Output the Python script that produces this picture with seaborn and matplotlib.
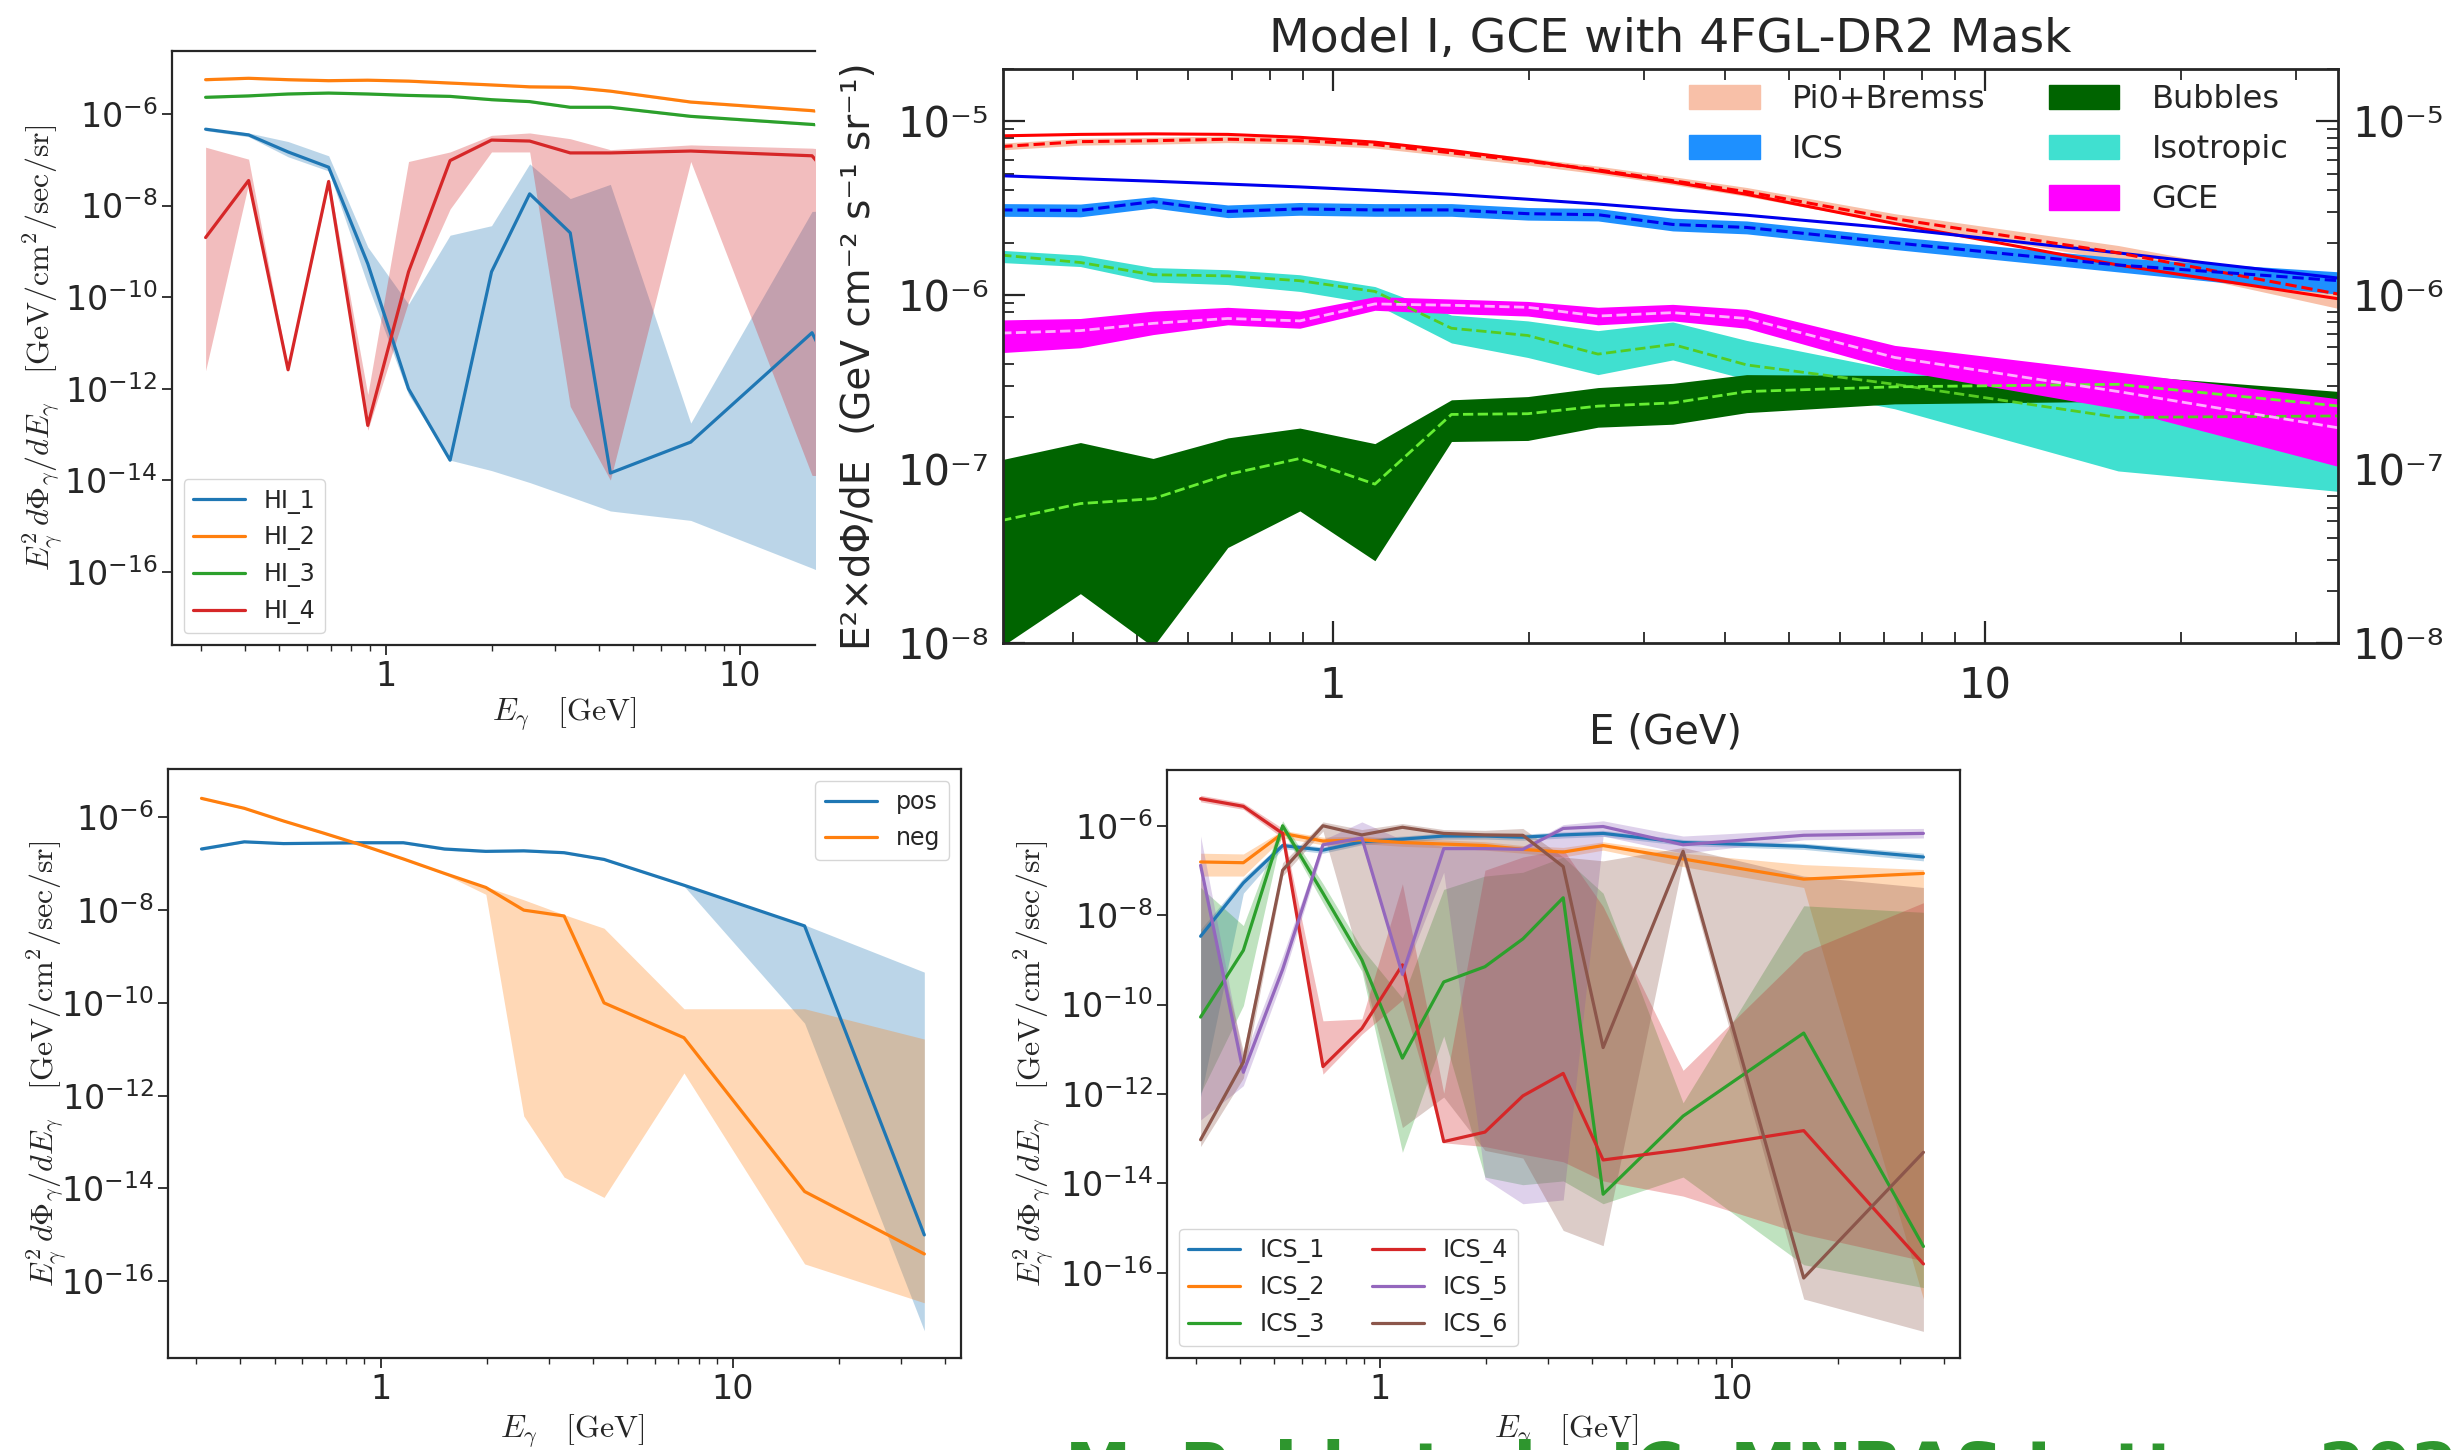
import numpy as np
import seaborn as sns
import matplotlib.pyplot as plt
from matplotlib.patches import Patch
from matplotlib.ticker import LogLocator, NullLocator, NullFormatter, LogFormatterMathtext, FuncFormatter

# energy bins (GeV), same for every panel
E = [0.31, 0.41, 0.53, 0.69, 0.89, 1.16, 1.52, 1.99, 2.55, 3.32, 4.31, 7.27, 16.0, 35.0]

# ---- top left: HI rings
hi1 = [4.65e-7, 3.49e-7, 1.48e-7, 6.87e-8, 5.36e-10, 9.95e-13, 2.75e-14, 3.57e-10, 1.80e-8, 2.54e-9, 1.44e-14, 6.84e-14, 1.67e-11, 1e-16]
hi1_hi = [4.88e-7, 3.85e-7, 2.50e-7, 1.22e-7, 1.24e-9, 7.02e-11, 2.25e-9, 3.63e-9, 8.13e-8, 1.42e-8, 2.90e-8, 1.78e-13, 7.43e-9, 1e-8]
hi1_lo = [4.33e-7, 3.18e-7, 1.16e-7, 5.68e-8, 1.83e-10, 7.47e-13, 2.75e-14, 1.63e-14, 8.95e-15, 4.38e-15, 2.14e-15, 1.33e-15, 1.21e-16, 1e-17]
hi2 = [5.60e-6, 6.01e-6, 5.60e-6, 5.33e-6, 5.46e-6, 5.21e-6, 4.73e-6, 4.30e-6, 3.91e-6, 3.82e-6, 3.15e-6, 1.82e-6, 1.18e-6, 6.0e-7]
hi2_hi = [5.9e-6, 6.3e-6, 5.9e-6, 5.6e-6, 5.7e-6, 5.5e-6, 5.0e-6, 4.5e-6, 4.1e-6, 4.0e-6, 3.3e-6, 1.9e-6, 1.24e-6, 6.3e-7]
hi2_lo = [5.3e-6, 5.7e-6, 5.3e-6, 5.05e-6, 5.2e-6, 4.95e-6, 4.5e-6, 4.1e-6, 3.7e-6, 3.6e-6, 3.0e-6, 1.72e-6, 1.12e-6, 5.7e-7]
hi3 = [2.31e-6, 2.48e-6, 2.73e-6, 2.86e-6, 2.73e-6, 2.54e-6, 2.42e-6, 2.05e-6, 1.86e-6, 1.40e-6, 1.40e-6, 8.87e-7, 5.91e-7, 3.5e-7]
hi3_hi = [2.42e-6, 2.6e-6, 2.86e-6, 3.0e-6, 2.86e-6, 2.66e-6, 2.54e-6, 2.15e-6, 1.95e-6, 1.47e-6, 1.47e-6, 9.3e-7, 6.2e-7, 3.7e-7]
hi3_lo = [2.2e-6, 2.36e-6, 2.6e-6, 2.72e-6, 2.6e-6, 2.42e-6, 2.3e-6, 1.95e-6, 1.77e-6, 1.33e-6, 1.33e-6, 8.4e-7, 5.6e-7, 3.3e-7]
hi4 = [2.0e-9, 3.52e-8, 2.59e-12, 3.35e-8, 1.58e-13, 3.57e-10, 9.6e-8, 2.69e-7, 2.56e-7, 1.41e-7, 1.41e-7, 1.55e-7, 1.22e-7, 1e-10]
hi4_hi = [1.88e-7, 1.03e-7, 2.78e-12, 3.96e-8, 7.47e-13, 9.16e-8, 1.48e-7, 3.41e-7, 3.85e-7, 2.88e-7, 1.66e-7, 2.11e-7, 1.79e-7, 1e-7]
hi4_lo = [2.47e-12, 3.0e-8, 2.47e-12, 2.77e-8, 1.24e-13, 7.91e-11, 8.38e-9, 1.48e-7, 1.48e-7, 4.11e-13, 1.01e-14, 9.16e-8, 1.28e-14, 1e-14]

# ---- top right: Model I fit
pi0_model = [8.24e-6, 8.40e-6, 8.46e-6, 8.40e-6, 8.08e-6, 7.58e-6, 6.79e-6, 5.97e-6, 5.18e-6, 4.47e-6, 3.80e-6, 2.58e-6, 1.49e-6, 9.5e-7]
pi0_fit = [7.15e-6, 7.63e-6, 7.73e-6, 7.88e-6, 7.73e-6, 7.34e-6, 6.58e-6, 5.89e-6, 5.25e-6, 4.55e-6, 3.93e-6, 2.75e-6, 1.75e-6, 1.01e-6]
pi0_hi = [7.48e-6, 7.98e-6, 8.08e-6, 8.24e-6, 8.08e-6, 7.73e-6, 6.88e-6, 6.16e-6, 5.52e-6, 4.80e-6, 4.16e-6, 2.94e-6, 1.93e-6, 1.12e-6]
pi0_lo = [6.84e-6, 7.29e-6, 7.38e-6, 7.53e-6, 7.38e-6, 7.01e-6, 6.28e-6, 5.60e-6, 4.98e-6, 4.32e-6, 3.70e-6, 2.58e-6, 1.59e-6, 8.35e-7]
ics_model = [4.86e-6, 4.67e-6, 4.52e-6, 4.35e-6, 4.19e-6, 4.00e-6, 3.80e-6, 3.56e-6, 3.34e-6, 3.09e-6, 2.88e-6, 2.42e-6, 1.75e-6, 1.25e-6]
ics_fit = [3.09e-6, 3.07e-6, 3.45e-6, 3.03e-6, 3.13e-6, 3.09e-6, 3.09e-6, 2.94e-6, 2.90e-6, 2.55e-6, 2.45e-6, 2.00e-6, 1.49e-6, 1.21e-6]
ics_hi = [3.36e-6, 3.34e-6, 3.68e-6, 3.30e-6, 3.41e-6, 3.36e-6, 3.36e-6, 3.19e-6, 3.15e-6, 2.77e-6, 2.67e-6, 2.17e-6, 1.64e-6, 1.36e-6]
ics_lo = [2.84e-6, 2.82e-6, 3.17e-6, 2.79e-6, 2.88e-6, 2.84e-6, 2.84e-6, 2.70e-6, 2.67e-6, 2.34e-6, 2.25e-6, 1.83e-6, 1.36e-6, 1.01e-6]
iso_fit = [1.70e-6, 1.54e-6, 1.31e-6, 1.29e-6, 1.21e-6, 1.05e-6, 6.45e-7, 5.86e-7, 4.58e-7, 5.21e-7, 3.97e-7, 3.07e-7, 1.98e-7, 2.02e-7]
iso_hi = [1.81e-6, 1.70e-6, 1.44e-6, 1.40e-6, 1.31e-6, 1.12e-6, 7.68e-7, 7.11e-7, 6.25e-7, 7.01e-7, 5.49e-7, 3.72e-7, 2.37e-7, 2.37e-7]
iso_lo = [1.54e-6, 1.46e-6, 1.19e-6, 1.15e-6, 1.05e-6, 8.9e-7, 5.31e-7, 4.38e-7, 3.49e-7, 4.24e-7, 3.28e-7, 2.22e-7, 9.75e-8, 7.43e-8]
gce_fit = [6.05e-7, 6.25e-7, 6.88e-7, 7.34e-7, 7.11e-7, 8.9e-7, 8.74e-7, 8.51e-7, 7.58e-7, 7.93e-7, 7.34e-7, 4.38e-7, 2.79e-7, 1.72e-7]
gce_hi = [7.20e-7, 7.34e-7, 8.09e-7, 8.51e-7, 8.09e-7, 9.8e-7, 9.5e-7, 9.2e-7, 8.51e-7, 8.85e-7, 8.29e-7, 5.14e-7, 3.61e-7, 2.53e-7]
gce_lo = [4.67e-7, 4.98e-7, 5.93e-7, 6.75e-7, 6.45e-7, 8.18e-7, 7.83e-7, 7.58e-7, 6.75e-7, 7.11e-7, 6.45e-7, 3.72e-7, 2.22e-7, 1.03e-7]
bub_fit = [5.05e-8, 6.33e-8, 6.75e-8, 9.31e-8, 1.15e-7, 8.19e-8, 2.06e-7, 2.08e-7, 2.30e-7, 2.40e-7, 2.79e-7, 2.97e-7, 3.07e-7, 2.30e-7]
bub_hi = [1.13e-7, 1.42e-7, 1.15e-7, 1.51e-7, 1.72e-7, 1.40e-7, 2.50e-7, 2.61e-7, 2.94e-7, 3.11e-7, 3.49e-7, 3.45e-7, 3.49e-7, 2.79e-7]
bub_lo = [9.5e-9, 1.92e-8, 9.5e-9, 3.54e-8, 5.74e-8, 2.97e-8, 1.44e-7, 1.46e-7, 1.74e-7, 1.81e-7, 2.11e-7, 2.37e-7, 2.45e-7, 2.08e-7]

# ---- bottom left: pos / neg
pos = [2.08e-7, 2.97e-7, 2.72e-7, 2.78e-7, 2.84e-7, 2.84e-7, 2.08e-7, 1.85e-7, 1.90e-7, 1.73e-7, 1.24e-7, 3.44e-8, 4.56e-9, 9.9e-16]
pos_hi = [2.2e-7, 3.1e-7, 2.85e-7, 2.9e-7, 2.95e-7, 2.95e-7, 2.2e-7, 1.95e-7, 2.0e-7, 1.8e-7, 1.3e-7, 3.6e-8, 4.8e-9, 4.6e-10]
pos_lo = [1.95e-7, 2.85e-7, 2.6e-7, 2.65e-7, 2.7e-7, 2.7e-7, 1.95e-7, 1.75e-7, 1.8e-7, 1.65e-7, 1.18e-7, 3.3e-8, 3.64e-11, 8.5e-18]
neg = [2.57e-6, 1.57e-6, 8.35e-7, 4.56e-7, 2.49e-7, 1.27e-7, 6.17e-8, 3.08e-8, 1.0e-8, 7.47e-9, 1.0e-10, 1.77e-11, 8.55e-15, 3.85e-16]
neg_hi = [2.7e-6, 1.65e-6, 8.8e-7, 4.8e-7, 2.6e-7, 1.33e-7, 6.5e-8, 3.2e-8, 1.67e-8, 7.98e-9, 4.07e-9, 7.46e-11, 7.46e-11, 1.66e-11]
neg_lo = [2.45e-6, 1.5e-6, 8.0e-7, 4.35e-7, 2.38e-7, 1.21e-7, 5.9e-8, 2.19e-8, 3.64e-13, 1.75e-14, 6.38e-15, 3.08e-12, 2.35e-16, 3.41e-17]

# ---- bottom right: ICS rings
ics1 = [3.37e-9, 5.26e-8, 3.61e-7, 2.85e-7, 4.38e-7, 5.03e-7, 5.89e-7, 5.89e-7, 5.55e-7, 6.24e-7, 6.75e-7, 4.22e-7, 3.47e-7, 2.0e-7]
ics1_hi = [4.8e-9, 6.79e-8, 4.22e-7, 3.33e-7, 5.13e-7, 5.89e-7, 6.88e-7, 6.88e-7, 6.49e-7, 7.31e-7, 7.9e-7, 4.93e-7, 4.05e-7, 2.43e-7]
ics1_lo = [8.51e-13, 3.1e-8, 3.08e-7, 2.43e-7, 3.75e-7, 4.3e-7, 5.03e-7, 5.03e-7, 4.74e-7, 5.33e-7, 5.77e-7, 3.61e-7, 2.96e-7, 1.64e-7]
ics2 = [1.55e-7, 1.49e-7, 6.75e-7, 4.56e-7, 4.84e-7, 4.22e-7, 3.90e-7, 3.61e-7, 2.96e-7, 2.58e-7, 3.61e-7, 1.81e-7, 6.4e-8, 8.59e-8]
ics2_hi = [2.43e-7, 2.34e-7, 7.9e-7, 5.55e-7, 5.89e-7, 5.13e-7, 4.84e-7, 4.38e-7, 3.61e-7, 3.27e-7, 4.38e-7, 2.43e-7, 1.35e-7, 1.05e-7]
ics2_lo = [7.5e-8, 7.5e-8, 5.33e-7, 3.75e-7, 3.97e-7, 3.47e-7, 3.21e-7, 2.85e-7, 2.43e-7, 2.0e-7, 2.85e-7, 1.22e-7, 4.16e-8, 2.58e-17]
ics3 = [5.25e-11, 1.63e-9, 1.0e-6, 3.1e-8, 9.98e-10, 6.31e-12, 3.2e-10, 7.02e-10, 2.94e-9, 2.45e-8, 5.7e-15, 3.19e-13, 2.3e-11, 3.87e-16]
ics3_hi = [4.16e-8, 5.84e-9, 1.29e-6, 5.06e-8, 1.80e-9, 1.4e-10, 3.77e-8, 7.5e-8, 9.12e-8, 2.0e-7, 3.1e-8, 6.34e-13, 1.62e-8, 1.16e-8]
ics3_lo = [1.04e-12, 9.46e-11, 7.9e-7, 1.9e-8, 5.54e-10, 4.94e-14, 1.97e-11, 1.38e-14, 9.31e-15, 1.13e-14, 3.49e-15, 1.38e-14, 1.51e-16, 4.65e-17]
ics4 = [4.03e-6, 2.72e-6, 6.75e-7, 4.09e-12, 2.92e-11, 7.73e-10, 8.57e-14, 1.40e-13, 9.04e-13, 2.88e-12, 3.33e-14, 5.67e-14, 1.51e-13, 1.57e-16]
ics4_hi = [4.81e-6, 3.25e-6, 8.71e-7, 4.32e-11, 4.76e-11, 5.06e-8, 1.04e-12, 1.01e-7, 2.0e-7, 2.96e-7, 1.56e-8, 3.37e-12, 1.48e-9, 1.9e-8]
ics4_lo = [3.44e-6, 2.33e-6, 5.33e-7, 2.77e-12, 2.17e-11, 1.27e-10, 8.07e-14, 6.64e-14, 4.48e-14, 3.03e-14, 1.13e-14, 5.18e-15, 7.26e-16, 1.84e-16]
ics5 = [1.30e-7, 3.05e-12, 6.11e-10, 3.75e-7, 5.33e-7, 4.73e-10, 3.08e-7, 3.08e-7, 2.96e-7, 8.71e-7, 9.62e-7, 3.75e-7, 6.12e-7, 6.75e-7]
ics5_hi = [5.89e-7, 6.07e-12, 1.21e-9, 4.84e-7, 1.22e-6, 4.84e-7, 3.47e-7, 3.61e-7, 3.47e-7, 1.06e-6, 1.29e-6, 5.89e-7, 8.22e-7, 8.71e-7]
ics5_lo = [2.62e-13, 1.53e-12, 3.74e-10, 2.85e-7, 3.97e-7, 4.13e-10, 9.12e-8, 1.25e-14, 3.49e-15, 4.25e-15, 5.89e-7, 2.43e-7, 4.84e-7, 5.33e-7]
ics6 = [9.44e-14, 5.18e-12, 1.01e-7, 1.0e-6, 6.24e-7, 9.24e-7, 6.75e-7, 6.24e-7, 6.12e-7, 1.22e-7, 1.09e-11, 2.69e-7, 7.6e-17, 4.94e-14]
ics6_hi = [7.5e-8, 8.98e-12, 1.49e-7, 1.22e-6, 8.22e-7, 1.12e-6, 8.22e-7, 7.9e-7, 8.71e-7, 2.0e-7, 1.64e-7, 3.27e-7, 7.5e-8, 4.16e-8]
ics6_lo = [6.64e-14, 2.27e-12, 7.5e-8, 7.6e-7, 6.75e-10, 1.77e-13, 8.51e-13, 5.46e-14, 3.68e-14, 8.83e-16, 4.03e-16, 1.64e-7, 2.58e-17, 4.87e-18]

sns.set_style('ticks')
plt.rcParams['font.family'] = ['DejaVu Sans']
plt.rcParams['mathtext.fontset'] = 'cm'

fig = plt.figure(figsize=(24.56, 14.5), dpi=100)

YLAB = r'$E_\gamma^2\,d\Phi_\gamma/dE_\gamma\quad[\mathrm{GeV/cm^2/sec/sr}]$'
XLAB = r'$E_\gamma\quad[\mathrm{GeV}]$'


def mpl_panel(ax, xlim, ylim, series, legend_kw):
    ax.set_xscale('log')
    ax.set_yscale('log')
    for name, y, lo, hi, c in series:
        ax.fill_between(E, lo, hi, color=c, alpha=0.3, lw=0)
        sns.lineplot(x=E, y=y, ax=ax, color=c, lw=2.3, label=name)
    ax.set_xlim(xlim)
    ax.set_ylim(ylim)
    ax.yaxis.set_major_locator(LogLocator(base=100))
    ax.yaxis.set_minor_locator(NullLocator())
    ax.yaxis.set_major_formatter(LogFormatterMathtext())
    ax.xaxis.set_major_formatter(FuncFormatter(lambda v, p: f'{v:g}'))
    ax.xaxis.set_minor_formatter(NullFormatter())
    ax.tick_params(which='major', labelsize=24, length=7, width=1.3)
    ax.tick_params(which='minor', length=4, width=1.0)
    for s in ax.spines.values():
        s.set_linewidth(1.6)
    ax.set_ylabel(YLAB, fontsize=23)
    ax.set_xlabel(XLAB, fontsize=23)
    ax.legend(fontsize=17, handlelength=2.2, **legend_kw)


# top left (cut off on the right)
ax1 = fig.add_axes([0.070, 0.555, 0.2618, 0.410])
mpl_panel(ax1, (0.249, 16.3), (2.5e-18, 2.4e-5),
          [('HI_1', hi1, hi1_lo, hi1_hi, 'C0'), ('HI_2', hi2, hi2_lo, hi2_hi, 'C1'),
           ('HI_3', hi3, hi3_lo, hi3_hi, 'C2'), ('HI_4', hi4, hi4_lo, hi4_hi, 'C3')],
          dict(loc='lower left'))
ax1.spines['right'].set_visible(False)
ax1.yaxis.set_label_coords(-0.165, 0.5)
ax1.xaxis.set_label_coords(0.61, -0.084)

# bottom left
ax3 = fig.add_axes([0.0684, 0.0634, 0.3229, 0.4062])
mpl_panel(ax3, (0.249, 44.5), (2.19e-18, 1.1e-5),
          [('pos', pos, pos_lo, pos_hi, 'C0'), ('neg', neg, neg_lo, neg_hi, 'C1')],
          dict(loc='upper right'))
ax3.yaxis.set_label_coords(-0.124, 0.5)
ax3.xaxis.set_label_coords(0.51, -0.093)

# bottom right
ax4 = fig.add_axes([0.4752, 0.0634, 0.3229, 0.4055])
mpl_panel(ax4, (0.249, 44.5), (1.23e-18, 1.76e-5),
          [('ICS_1', ics1, ics1_lo, ics1_hi, 'C0'), ('ICS_2', ics2, ics2_lo, ics2_hi, 'C1'),
           ('ICS_3', ics3, ics3_lo, ics3_hi, 'C2'), ('ICS_4', ics4, ics4_lo, ics4_hi, 'C3'),
           ('ICS_5', ics5, ics5_lo, ics5_hi, 'C4'), ('ICS_6', ics6, ics6_lo, ics6_hi, 'C5')],
          dict(loc='lower left', ncol=2, columnspacing=2.0))
ax4.yaxis.set_label_coords(-0.139, 0.5)
ax4.xaxis.set_label_coords(0.503, -0.093)

# top right: Model I
ax2 = fig.add_axes([0.4084, 0.5566, 0.5436, 0.3959])
ax2.set_xscale('log')
ax2.set_yscale('log')
ax2.fill_between(E, pi0_lo, pi0_hi, color='#f8c0a8', lw=0)
ax2.fill_between(E, ics_lo, ics_hi, color='#1e90ff', lw=0)
ax2.fill_between(E, iso_lo, iso_hi, color='#40e0d0', lw=0)
ax2.fill_between(E, bub_lo, bub_hi, color='#006400', lw=0)
ax2.fill_between(E, gce_lo, gce_hi, color='#ff00ff', lw=0)
sns.lineplot(x=E, y=pi0_model, ax=ax2, color='red', lw=2.2)
sns.lineplot(x=E, y=ics_model, ax=ax2, color='#0000ee', lw=2.2)
sns.lineplot(x=E, y=pi0_fit, ax=ax2, color='red', lw=2.2, linestyle='--')
sns.lineplot(x=E, y=ics_fit, ax=ax2, color='#0000ee', lw=2.2, linestyle='--')
sns.lineplot(x=E, y=iso_fit, ax=ax2, color='#55cc22', lw=2.0, linestyle='--')
sns.lineplot(x=E, y=bub_fit, ax=ax2, color='#66ee33', lw=2.0, linestyle='--')
sns.lineplot(x=E, y=gce_fit, ax=ax2, color='#ffb0ff', lw=2.0, linestyle='--')
ax2.set_xlim(0.312, 34.8)
ax2.set_ylim(1e-8, 2e-5)

sup = str.maketrans('-0123456789', '⁻⁰¹²³⁴⁵⁶⁷⁸⁹')
ax2.yaxis.set_major_locator(LogLocator(base=10))
ax2.yaxis.set_minor_locator(LogLocator(base=10, subs=np.arange(2, 10)))
ax2.yaxis.set_major_formatter(FuncFormatter(lambda v, p: '10' + str(int(round(np.log10(v)))).translate(sup)))
ax2.yaxis.set_minor_formatter(NullFormatter())
ax2.xaxis.set_major_formatter(FuncFormatter(lambda v, p: f'{v:g}'))
ax2.xaxis.set_minor_formatter(NullFormatter())
ax2.tick_params(which='both', direction='in', top=True, right=True, labelright=True)
ax2.tick_params(which='major', length=16, width=1.6, labelsize=30, pad=10)
ax2.tick_params(axis='x', which='major', pad=16)
ax2.tick_params(which='minor', length=8, width=1.3)
for s in ax2.spines.values():
    s.set_linewidth(2.0)
ax2.set_title('Model I, GCE with 4FGL-DR2 Mask', fontsize=34, pad=12)
ax2.set_ylabel('E²×dΦ/dE  (GeV cm⁻² s⁻¹ sr⁻¹)', fontsize=28)
ax2.set_xlabel('E (GeV)', fontsize=29)
ax2.yaxis.set_label_coords(-0.094, 0.5)
ax2.xaxis.set_label_coords(0.496, -0.122)

handles = [Patch(color='#f8c0a8', label='Pi0+Bremss'), Patch(color='#1e90ff', label='ICS'),
           Patch(color='none', label=' '), Patch(color='#006400', label='Bubbles'),
           Patch(color='#40e0d0', label='Isotropic'), Patch(color='#ff00ff', label='GCE')]
ax2.legend(handles=handles, ncol=2, loc='upper left', bbox_to_anchor=(0.495, 1.018), frameon=False,
           fontsize=23, handlelength=2.2, handleheight=0.8, handletextpad=1.0,
           labelspacing=0.6, columnspacing=2.0, borderpad=0.3)

# credit line, mostly cut off by the bottom edge of the figure
fig.text(0.4336, -0.028, 'M. Pohl et al., JC  MNRAS Letters 2022', color='#2e962e',
         fontsize=48, fontweight='bold', va='baseline')

fig.savefig('out.png', dpi=100, facecolor='white')
